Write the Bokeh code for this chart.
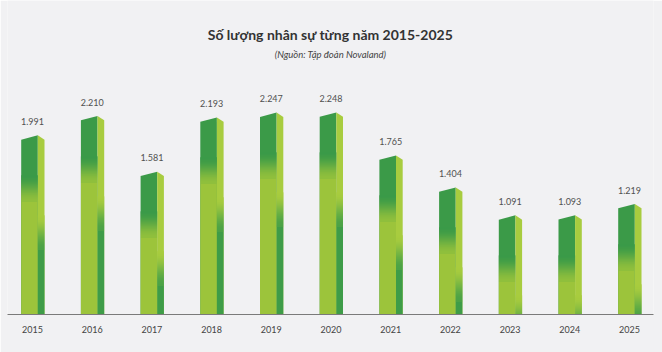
import numpy as np
from bokeh.plotting import figure
from bokeh.models import Range1d, FixedTicker
from bokeh.embed import file_html
from bokeh.resources import INLINE
from bokeh.core.properties import value

# ---------------- data ----------------
years = [2015, 2016, 2017, 2018, 2019, 2020, 2021, 2022, 2023, 2024, 2025]
staff = [1991, 2210, 1581, 2193, 2247, 2248, 1765, 1404, 1091, 1093, 1219]
year_labels = [str(y) for y in years]
value_labels = [f"{v:,}".replace(",", ".") for v in staff]
title_text = "Số lượng nhân sự từng năm 2015-2025"
source_text = "(Nguồn: Tập đoàn Novaland)"

# ---------------- style ----------------
BG = "#f1f1f3"
DARK = "#3b9a48"
LIGHT = "#9cc43b"
SIDE_LIGHT = "#a8cc3f"
SIDE_DARK = "#3e9c48"
FONT = "Lato"

W, H = 662, 352
B_LEFT, B_RIGHT, B_BOTTOM = 7, 9, 38
frame_w = W - B_LEFT - B_RIGHT
frame_h = H - B_BOTTOM
PX_PER_YEAR = 59.7
UNITS_PER_PX = 11.25
x_start = years[0] - (32 - B_LEFT) / PX_PER_YEAR
x_end = x_start + frame_w / PX_PER_YEAR
y_end = frame_h * UNITS_PER_PX

p = figure(width=W, height=H, x_range=Range1d(x_start, x_end), y_range=Range1d(0, y_end),
           output_backend="svg", toolbar_location=None, y_axis_location=None,
           min_border_left=B_LEFT, min_border_right=B_RIGHT, min_border_top=0,
           min_border_bottom=B_BOTTOM)
p.background_fill_color = BG
p.border_fill_color = BG
p.outline_line_color = None
p.xgrid.grid_line_color = None
p.ygrid.grid_line_color = None

ax = p.xaxis[0]
ax.ticker = FixedTicker(ticks=years)
ax.major_label_overrides = {y: l for y, l in zip(years, year_labels)}
ax.axis_line_color = "#7a7a7a"
ax.axis_line_width = 1
ax.major_tick_line_color = None
ax.minor_tick_line_color = None
ax.major_tick_out = 0
ax.major_tick_in = 0
ax.major_label_standoff = 11
ax.major_label_text_font = FONT
ax.major_label_text_font_size = "9px"
ax.major_label_text_color = "#444444"


def hex2rgb(h):
    h = h.lstrip("#")
    return np.array([int(h[i:i + 2], 16) for i in (0, 2, 4)], dtype=float)


def lerp(c1, c2, t):
    t = t * t * (3 - 2 * t)
    a, b = hex2rgb(c1), hex2rgb(c2)
    c = a + (b - a) * t
    return "#%02x%02x%02x" % tuple(int(round(v)) for v in c)


u = UNITS_PER_PX
fl, fm, fr = -11.3 / PX_PER_YEAR, 5.3 / PX_PER_YEAR, 12.0 / PX_PER_YEAR
d = 2.15 * u

# base faces
front_xs, front_ys, side_xs, side_ys = [], [], [], []
for c, v in zip(years, staff):
    front_xs.append([c + fl, c + fm, c + fm, c + fl])
    front_ys.append([0, 0, v + d, v - d])
    side_xs.append([c + fm, c + fr, c + fr, c + fm])
    side_ys.append([0, 0, v - d, v + d])
p.patches(front_xs, front_ys, fill_color=DARK, line_color=None)
p.patches(side_xs, side_ys, fill_color=SIDE_LIGHT, line_color=None)

# gradient slices, aligned to whole pixels
ql, qr, qb, qt, qc = [], [], [], [], []


def add_gradient(x0, x1, lo_px, hi_px, v, c_lo, c_hi):
    top_px = round(v / u)
    lo = top_px - lo_px
    hi = top_px - hi_px
    if lo > 0:
        ql.append(x0); qr.append(x1); qb.append(0); qt.append(lo * u + 0.3 * u); qc.append(c_lo)
    n = hi - lo
    for k in range(n):
        pk = lo + k
        if pk < 0:
            continue
        ql.append(x0); qr.append(x1)
        qb.append(pk * u); qt.append((pk + 1.3) * u)
        qc.append(lerp(c_lo, c_hi, (k + 0.5) / n))


for c, v in zip(years, staff):
    add_gradient(c + fl, c + fm, 64, 38, v, LIGHT, DARK)
    add_gradient(c + fm, c + fr, 112, 78, v, SIDE_DARK, SIDE_LIGHT)
p.quad(left=ql, right=qr, bottom=qb, top=qt, fill_color=qc, line_color=None)

# value labels
p.text(x=years, y=staff, text=value_labels, y_offset=-16, text_align="center",
       text_baseline="middle", text_font=value(FONT), text_font_size="9px",
       text_color="#505050")

# title & source
mid = (x_start + x_end) / 2
p.text(x=[mid], y=[y_end], text=[title_text], y_offset=34, text_align="center",
       text_baseline="middle", text_font=value(FONT), text_font_style="bold",
       text_font_size="14px", text_color="#333333")
p.text(x=[mid], y=[y_end], text=[source_text], y_offset=54, text_align="center",
       text_baseline="middle", text_font=value(FONT), text_font_style="italic",
       text_font_size="9.5px", text_color="#444444")

open("out.html", "w").write(file_html(p, INLINE))
